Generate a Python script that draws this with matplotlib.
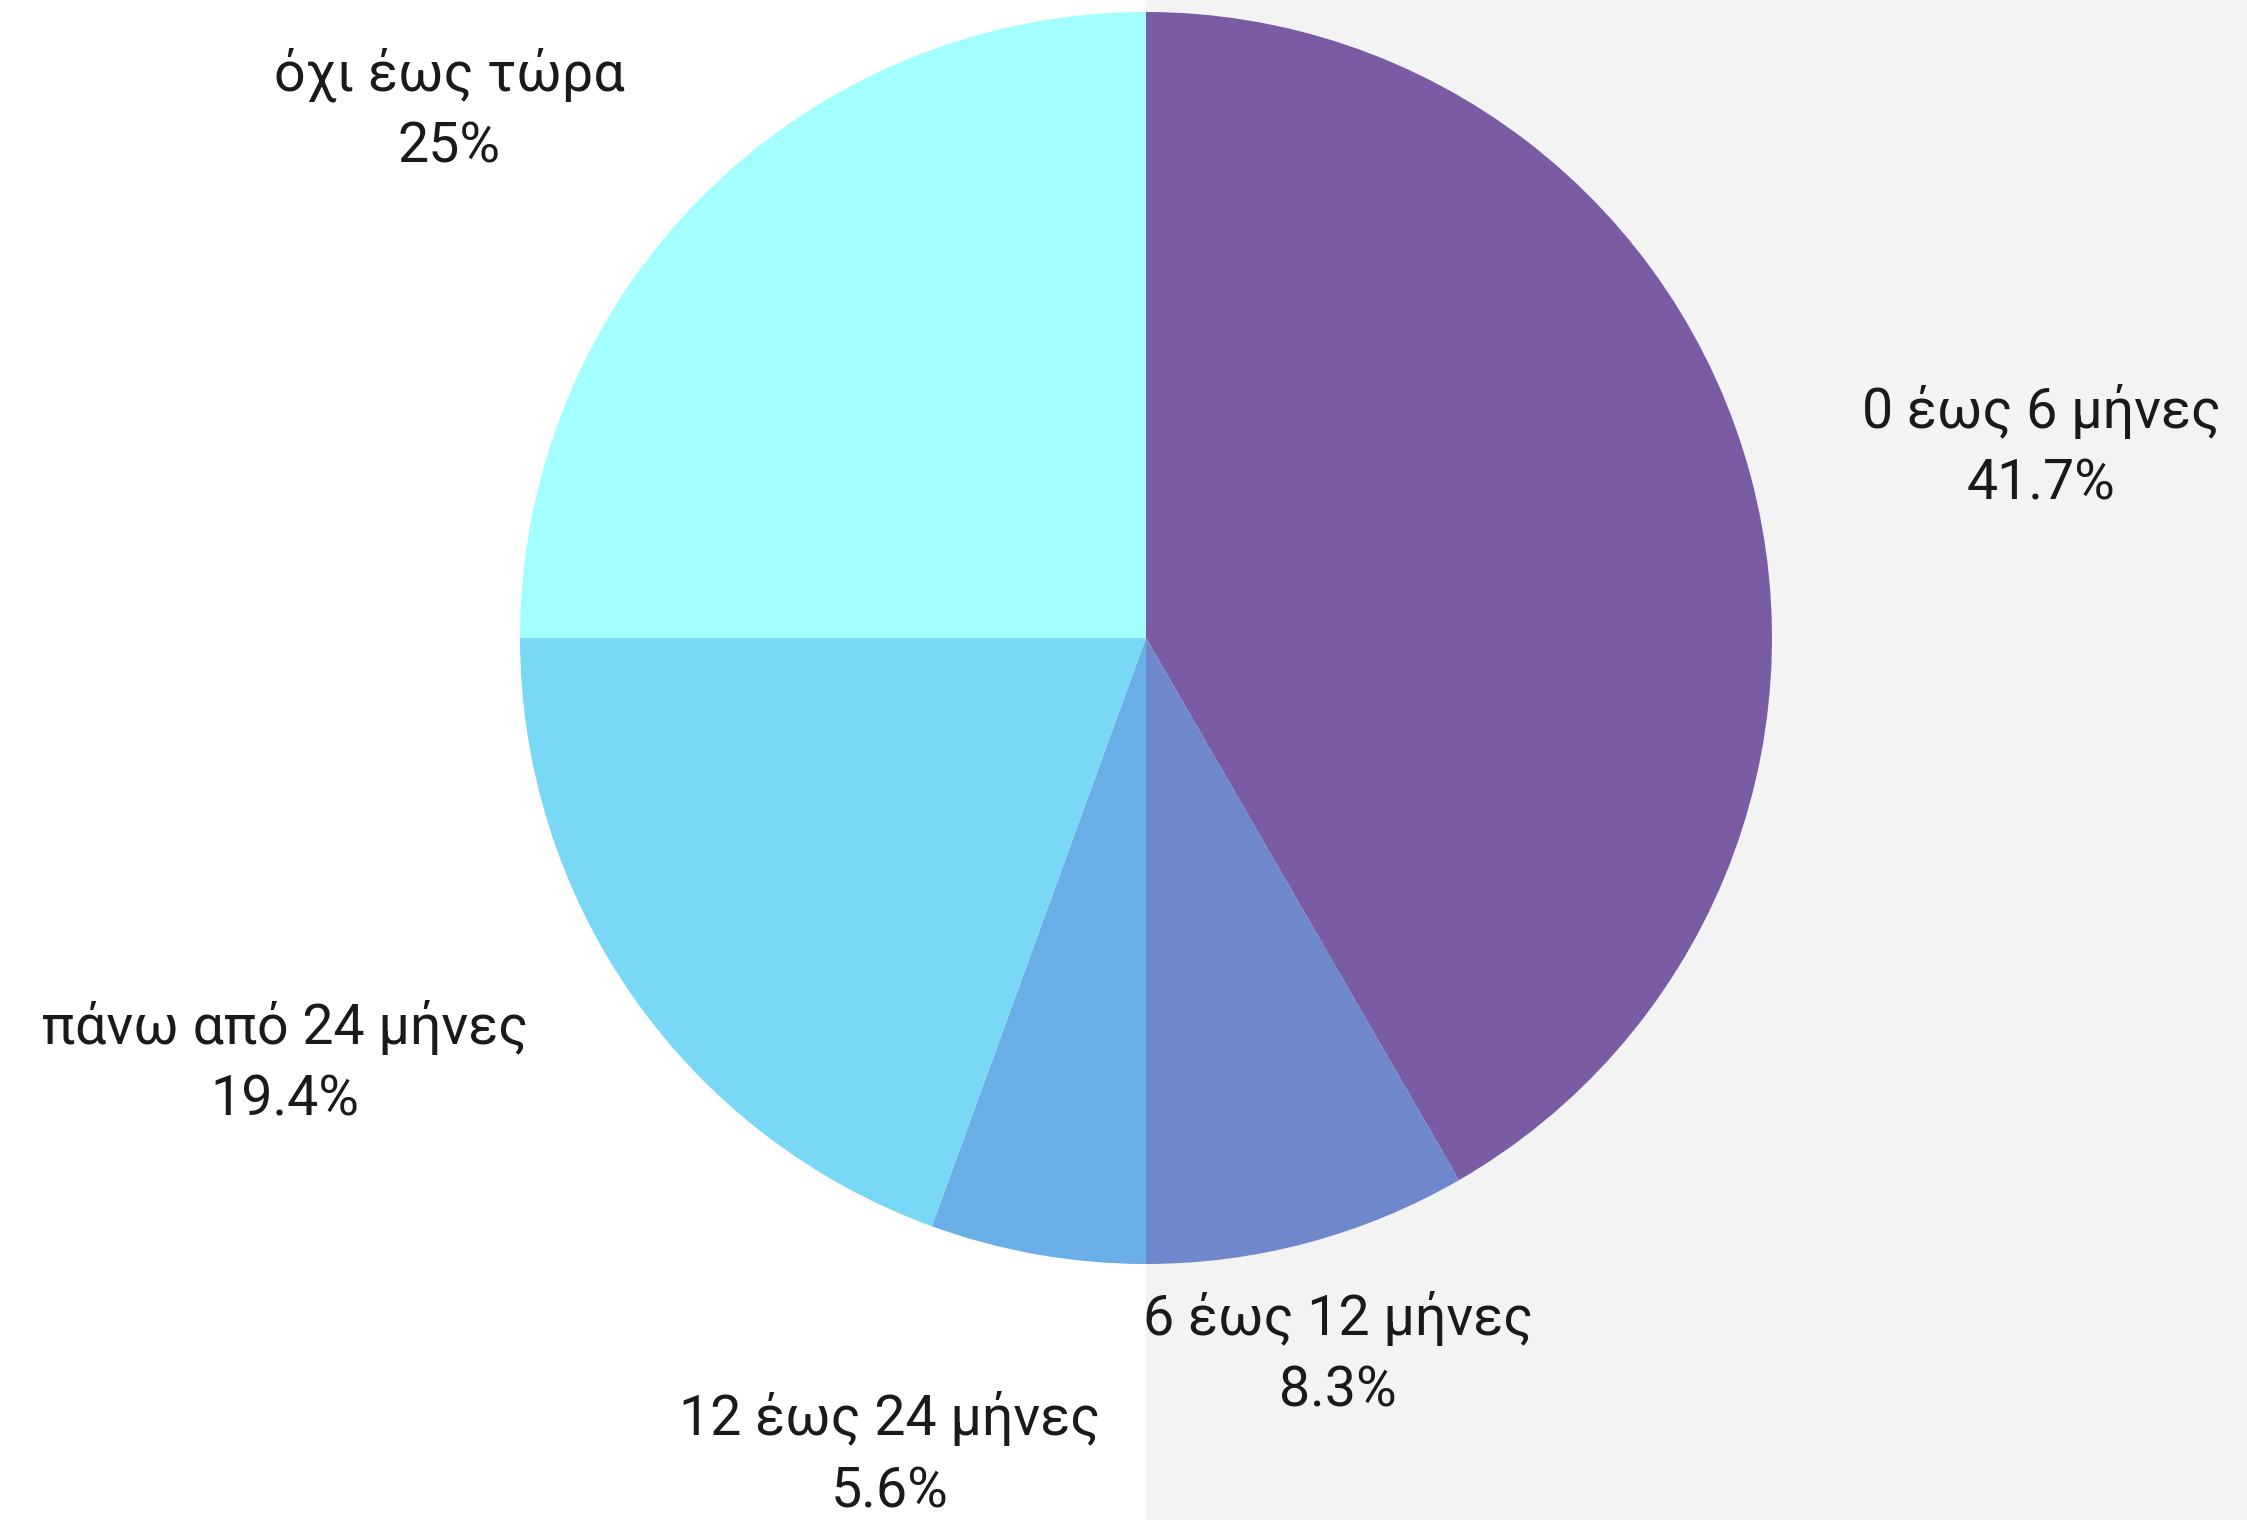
import matplotlib
matplotlib.use('Agg')
import matplotlib.pyplot as plt

# δεδομένα
labels = ['0 έως 6 μήνες', '6 έως 12 μήνες', '12 έως 24 μήνες',
          'πάνω από 24 μήνες', 'όχι έως τώρα']
counts = [15, 3, 2, 7, 9]
colors = ['#7a5ca4', '#6e88cb', '#69aee6', '#79d8f6', '#a3ffff']

# θέσεις ετικετών (σε μονάδες ακτίνας)
label_pos = [(1.43, 0.305), (0.307, -1.144), (-0.409, -1.305),
             (-1.375, -0.679), (-1.113, 0.843)]

plt.rcParams['font.family'] = ['Roboto', 'DejaVu Sans']

fig = plt.figure(figsize=(22.47, 15.2), dpi=100)
ax = fig.add_axes([0, 0, 1, 1])

ax.axvspan(0, 3, color='#f3f3f3', zorder=0, lw=0)
ax.pie(counts, colors=colors, startangle=90, counterclock=False,
       wedgeprops={'linewidth': 0}, radius=1.0)

total = sum(counts)
for lab, v, (x, y) in zip(labels, counts, label_pos):
    pct = f'{v / total * 100:.1f}'
    if pct.endswith('.0'):
        pct = pct[:-2]
    ax.text(x, y, f'{lab}\n{pct}%', ha='center', va='center',
            fontsize=40, color='#1a1a1a', linespacing=1.45)

ax.set_xlim(-1146 / 626, (2247 - 1146) / 626)
ax.set_ylim(-(1520 - 638) / 626, 638 / 626)
ax.set_aspect('auto')
ax.axis('off')

fig.savefig('out.png', dpi=100, facecolor='white')
